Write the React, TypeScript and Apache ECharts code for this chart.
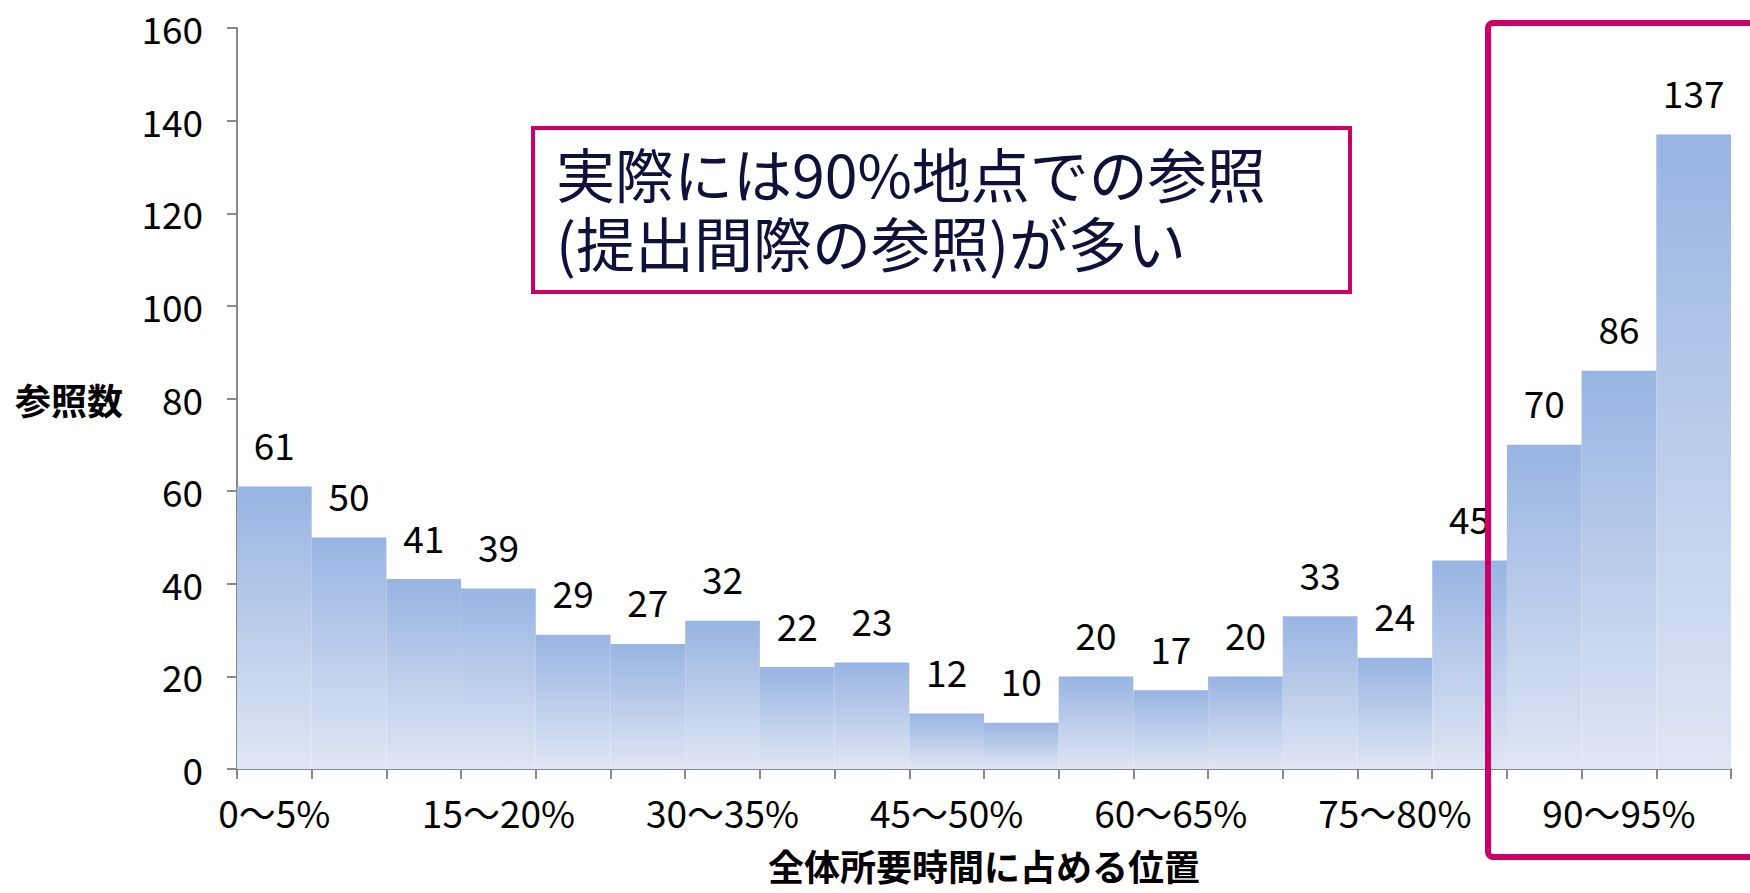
import React, { useEffect, useRef } from "react";
import * as echarts from "echarts";

const categories = [
  "0〜5%", "5〜10%", "10〜15%", "15〜20%", "20〜25%", "25〜30%", "30〜35%", "35〜40%",
  "40〜45%", "45〜50%", "50〜55%", "55〜60%", "60〜65%", "65〜70%", "70〜75%", "75〜80%",
  "80〜85%", "85〜90%", "90〜95%", "95〜100%",
];
const counts = [61, 50, 41, 39, 29, 27, 32, 22, 23, 12, 10, 20, 17, 20, 33, 24, 45, 70, 86, 137];
const yAxisName = "参照数";
const xAxisName = "全体所要時間に占める位置";
const noteText = "実際には90%地点での参照\n(提出間際の参照)が多い";

const FONT = "'Noto Sans CJK JP', 'Noto Sans', sans-serif";

export default function App() {
  const ref = useRef<HTMLDivElement>(null);
  useEffect(() => {
    if (!ref.current) return;
    const chart = echarts.init(ref.current, undefined, { renderer: "svg" });
    chart.setOption({
      animation: false,
      backgroundColor: "#ffffff",
      textStyle: { fontFamily: FONT },
      grid: { left: 237, right: 19, top: 28, bottom: 124, containLabel: false },
      xAxis: {
        type: "category",
        data: categories,
        boundaryGap: true,
        name: xAxisName,
        nameLocation: "middle",
        nameGap: 78,
        nameTextStyle: { fontSize: 36, lineHeight: 36, fontWeight: "bold", color: "#000", fontFamily: FONT },
        axisLine: { lineStyle: { color: "#898989", width: 2 } },
        axisTick: { show: true, interval: 0, length: 10, lineStyle: { color: "#898989", width: 2 } },
        axisLabel: { interval: 2, margin: 24, lineHeight: 37, fontSize: 37, color: "#000", fontFamily: FONT },
      },
      yAxis: {
        type: "value",
        min: 0,
        max: 160,
        interval: 20,
        name: yAxisName,
        nameLocation: "middle",
        nameRotate: 0,
        nameGap: 114,
        nameTextStyle: { fontSize: 36, fontWeight: "bold", color: "#000", fontFamily: FONT },
        axisLine: { show: true, lineStyle: { color: "#898989", width: 2 } },
        axisTick: { show: true, length: 10, lineStyle: { color: "#898989", width: 2 } },
        splitLine: { show: false },
        axisLabel: { margin: 34, fontSize: 37, color: "#000", fontFamily: FONT },
      },
      series: [
        {
          type: "bar",
          data: counts,
          barCategoryGap: "0%",
          itemStyle: {
            color: new echarts.graphic.LinearGradient(0, 0, 0, 1, [
              { offset: 0, color: "#98b4e2" },
              { offset: 1, color: "#dfe6f4" },
            ]),
          },
          label: {
            show: true,
            position: "top",
            distance: 24,
            fontSize: 37,
            color: "#000",
            fontFamily: FONT,
          },
        },
      ],
      graphic: [
        {
          type: "rect",
          z: 100,
          shape: { x: 533, y: 128, width: 817, height: 164 },
          style: { fill: "#ffffff", stroke: "#cc0066", lineWidth: 4 },
        },
        {
          type: "text",
          z: 101,
          x: 556,
          y: 207,
          style: {
            text: noteText,
            fontSize: 59,
            lineHeight: 69,
            fontFamily: FONT,
            fill: "#10103a",
            verticalAlign: "middle",
            align: "left",
          },
        },
        {
          type: "rect",
          z: 100,
          shape: { x: 1488, y: 23, width: 320, height: 834, r: 5 },
          style: { fill: "none", stroke: "#cc0066", lineWidth: 6 },
        },
      ],
    });
    return () => chart.dispose();
  }, []);
  return (
    <div
      ref={ref}
      style={{ position: "fixed", left: 0, top: 0, width: 1750, height: 893, background: "#fff" }}
    />
  );
}
